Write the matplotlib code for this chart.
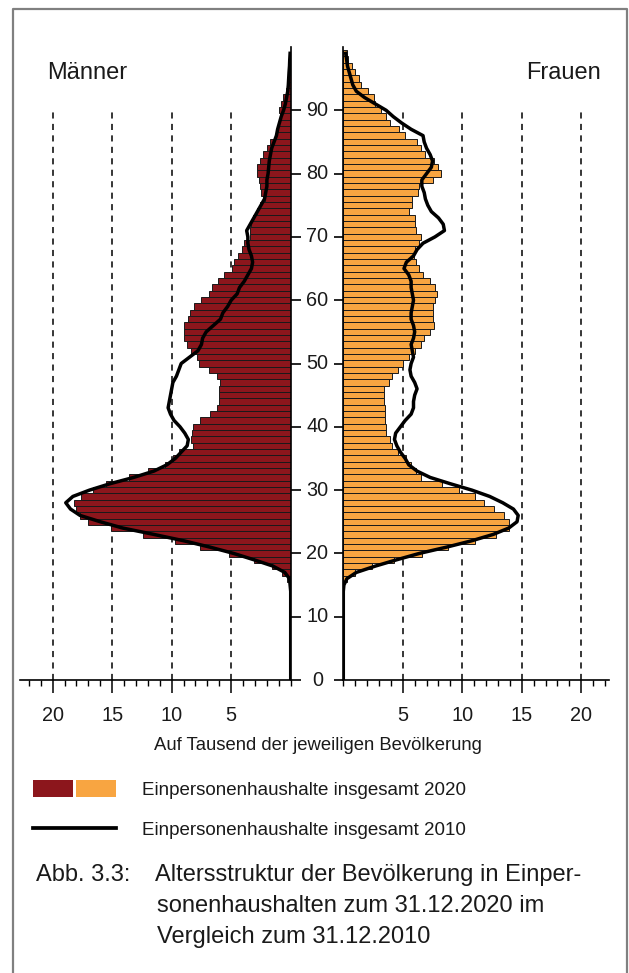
import numpy as np
import matplotlib
matplotlib.use("Agg")
import matplotlib.pyplot as plt
from matplotlib.ticker import MultipleLocator, FixedLocator
from matplotlib.transforms import blended_transform_factory
from matplotlib.patches import Patch
from matplotlib.lines import Line2D
from matplotlib.legend_handler import HandlerTuple

plt.rcParams['font.family'] = ['Liberation Sans', 'DejaVu Sans']

############
# Data (per thousand of the respective population)

bar_ages = list(range(16, 100))

men_2020 = [0.35, 0.75, 1.6, 3.1, 5.2, 7.6, 9.7, 12.4, 15.1, 17.0,      # 16-25
            17.7, 18.0, 18.2, 17.6, 16.6, 15.5, 13.6, 12.0, 10.6, 9.9,  # 26-35
            9.4, 8.2, 8.4, 8.3, 8.2, 7.6, 6.8, 6.2, 6.05, 6.0,          # 36-45
            6.0, 5.9, 6.2, 6.9, 7.7, 7.9, 8.4, 8.7, 9.0, 9.0,           # 46-55
            9.0, 8.6, 8.5, 8.1, 7.5, 6.9, 6.6, 6.1, 5.6, 4.9,           # 56-65
            4.8, 4.4, 4.1, 3.9, 3.4, 3.4, 3.3, 3.2, 2.8, 2.6,           # 66-75
            2.2, 2.5, 2.6, 2.7, 2.8, 2.85, 2.6, 2.3, 1.96, 1.7,         # 76-85
            1.2, 1.1, 1.0, 0.9, 0.95, 0.78, 0.62, 0.39, 0.25, 0.15,     # 86-95
            0.1, 0.05, 0.0, 0.0]                                        # 96-99

women_2020 = [0.3, 1.0, 2.4, 4.3, 6.6, 8.8, 11.1, 12.8, 13.9, 13.9,     # 16-25
              13.5, 12.7, 11.8, 11.1, 9.7, 8.3, 6.5, 6.1, 5.7, 5.3,     # 26-35
              4.6, 4.1, 3.9, 3.6, 3.6, 3.5, 3.5, 3.5, 3.4, 3.4,         # 36-45
              3.4, 3.8, 4.1, 4.6, 5.0, 5.5, 6.0, 6.5, 6.8, 7.3,         # 46-55
              7.6, 7.5, 7.5, 7.5, 7.7, 7.9, 7.7, 7.3, 6.7, 6.4,         # 56-65
              6.1, 5.9, 6.0, 6.4, 6.5, 6.1, 6.0, 6.0, 5.5, 5.8,         # 66-75
              5.8, 6.3, 6.4, 7.5, 8.2, 8.0, 7.6, 6.9, 6.5, 6.2,         # 76-85
              5.2, 4.7, 3.9, 3.6, 3.2, 2.7, 2.6, 2.1, 1.5, 1.3,         # 86-95
              1.0, 0.75, 0.4, 0.28]                                     # 96-99

line_ages = list(range(0, 100))

men_2010 = [0.0] * 15 + [
    0.05, 0.1, 0.5, 1.5, 3.1, 4.8, 6.8, 9.0, 11.5, 14.1,      # 15-24
    16.0, 17.7, 18.5, 18.9, 18.3, 16.9, 15.2, 13.2, 11.5, 10.4,  # 25-34
    9.7, 9.2, 8.7, 8.6, 8.9, 9.3, 9.8, 10.1, 10.3, 10.2,      # 35-44
    10.1, 10.0, 9.9, 9.6, 9.4, 9.2, 8.5, 7.8, 7.5, 7.4,       # 45-54
    7.1, 6.5, 5.9, 5.7, 5.3, 5.0, 4.5, 4.3, 3.9, 3.6,         # 55-64
    3.3, 3.2, 3.3, 3.5, 3.6, 3.6, 3.7, 3.4, 3.1, 2.8,         # 65-74
    2.5, 2.2, 2.1, 2.0, 2.0, 1.9, 1.85, 1.8, 1.7, 1.6,        # 75-84
    1.4, 1.2, 1.1, 0.95, 0.8, 0.6, 0.45, 0.35, 0.25, 0.2,     # 85-94
    0.17, 0.14, 0.1, 0.08, 0.05]                              # 95-99

women_2010 = [0.0] * 15 + [
    0.05, 0.3, 1.1, 2.7, 4.5, 6.4, 8.7, 10.8, 12.6, 13.9,     # 15-24
    14.6, 14.7, 14.3, 13.4, 12.3, 10.8, 9.0, 7.3, 6.2, 5.5,   # 25-34
    5.2, 4.8, 4.5, 4.3, 4.4, 4.8, 5.2, 5.7, 5.9, 5.9,         # 35-44
    6.0, 6.2, 6.0, 5.7, 5.6, 5.7, 5.9, 5.8, 5.7, 5.9,         # 45-54
    6.0, 5.9, 5.7, 5.7, 5.8, 5.9, 5.8, 5.7, 5.7, 5.5,         # 55-64
    5.1, 5.3, 5.9, 6.2, 6.7, 7.7, 8.5, 8.4, 8.0, 7.4,         # 65-74
    7.1, 6.9, 6.8, 6.6, 6.6, 7.0, 7.4, 7.5, 7.3, 7.0,         # 75-84
    6.8, 6.7, 5.7, 4.9, 4.2, 3.6, 2.7, 1.8, 1.1, 0.8,         # 85-94
    0.65, 0.5, 0.35, 0.28, 0.2]                               # 95-99

age_ticks = [0, 10, 20, 30, 40, 50, 60, 70, 80, 90]
value_ticks = [5, 10, 15, 20]

#####################
# Layout

W, H = 629, 973
fig = plt.figure(figsize=(W / 100, H / 100), dpi=100)

red = '#8C161C'
orange = '#F8A541'
txt = '#1a1a1a'

ax_m = fig.add_axes([19.7 / W, 293 / H, 271 / W, 633 / H])
ax_w = fig.add_axes([343.3 / W, 293 / H, 265.7 / W, 633 / H])

ax_m.set_xlim(22.77, 0)
ax_w.set_xlim(0, 22.33)

for ax, vals20, vals10, col in [(ax_m, men_2020, men_2010, red),
                                (ax_w, women_2020, women_2010, orange)]:
    ax.set_ylim(0, 100)
    ax.vlines(value_ticks, 0, 90, colors='black', linewidth=1.1,
              linestyles=(0, (4, 3.5)), zorder=0.5)
    ax.barh(bar_ages, vals20, height=1.0, color=col, edgecolor='#1a1a1a',
            linewidth=0.7, zorder=2)
    ax.plot(vals10, line_ages, color='black', linewidth=2.5, zorder=3,
            solid_joinstyle='round')
    ax.spines['top'].set_visible(False)
    for s in ax.spines.values():
        s.set_linewidth(1.2)
    ax.xaxis.set_major_locator(FixedLocator(value_ticks))
    ax.xaxis.set_minor_locator(MultipleLocator(1))
    ax.tick_params(axis='x', which='major', direction='out', length=9,
                   width=1.1, pad=9.5, labelsize=14.3, labelcolor=txt)
    ax.tick_params(axis='x', which='minor', direction='out', length=4,
                   width=1.0)
    ax.yaxis.set_major_locator(FixedLocator(age_ticks))

ax_m.spines['left'].set_visible(False)
ax_m.yaxis.tick_right()
ax_m.tick_params(axis='y', direction='out', length=7.5, width=1.2,
                 labelright=False)
ax_w.spines['right'].set_visible(False)
ax_w.tick_params(axis='y', direction='out', length=6.5, width=1.2,
                 labelleft=False)

# age labels in the gap between the two halves
tr = blended_transform_factory(ax_m.transAxes, ax_m.transData)
for a in age_ticks:
    ax_m.text(1 + 26.6 / 271, a, str(a), transform=tr, ha='center',
              va='center', fontsize=14.3, color=txt)

fig.text(87 / W, 1 - 78.7 / H, 'Männer', ha='center', va='baseline',
         fontsize=17, color=txt)
fig.text(601 / W, 1 - 78.7 / H, 'Frauen', ha='right', va='baseline',
         fontsize=17, color=txt)
fig.text(318 / W, 1 - 746 / H, 'Auf Tausend der jeweiligen Bevölkerung',
         ha='center', va='center', fontsize=13.3, color=txt)

# legend
h_bar = (Patch(facecolor=red, edgecolor='none'),
         Patch(facecolor=orange, edgecolor='none'))
h_line = Line2D([], [], color='black', linewidth=2.7)
fig.legend([h_bar, h_line],
           ['Einpersonenhaushalte insgesamt 2020',
            'Einpersonenhaushalte insgesamt 2010'],
           handler_map={tuple: HandlerTuple(ndivide=None, pad=0.18)},
           loc='upper left', bbox_to_anchor=(33 / W, 1 - 780 / H),
           frameon=False, fontsize=13.5, labelcolor=txt,
           handlelength=4.43, handleheight=1.0, handletextpad=1.37,
           labelspacing=1.15, borderpad=0, borderaxespad=0)

# caption
fig.text(36 / W, 1 - 881 / H, 'Abb. 3.3:', ha='left', va='baseline',
         fontsize=17, color=txt)
caption = ['Altersstruktur der Bevölkerung in Einper-',
           'sonenhaushalten zum 31.12.2020 im',
           'Vergleich zum 31.12.2010']
for i, line in enumerate(caption):
    fig.text((155 if i == 0 else 157) / W, 1 - (881 + 31 * i) / H, line,
             ha='left', va='baseline', fontsize=17, color=txt)

# frame round the figure
fig.add_artist(Line2D([12.7 / W, 12.7 / W, 626.7 / W, 626.7 / W],
                      [0, 1 - 9.3 / H, 1 - 9.3 / H, 0],
                      color='#808080', linewidth=1.6))

fig.savefig('out.png', dpi=100)
